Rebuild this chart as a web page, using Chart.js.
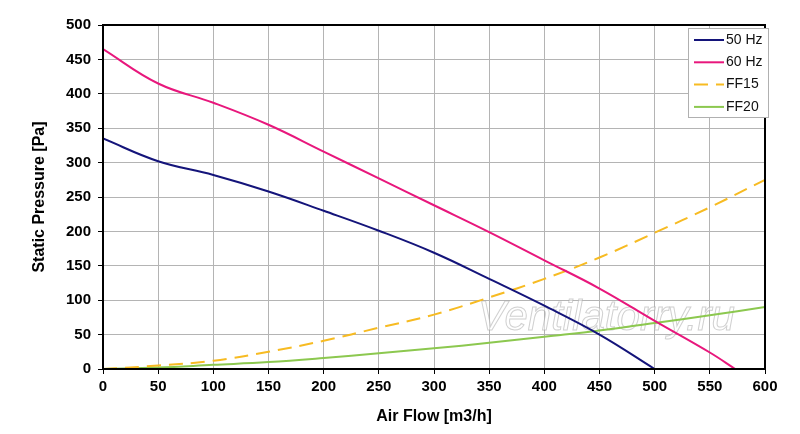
<!DOCTYPE html>
<html>
<head>
<meta charset="utf-8">
<script src="https://cdn.jsdelivr.net/npm/chart.js@4/dist/chart.umd.min.js"></script>
<style>
  html, body { margin: 0; padding: 0; background: #fff; }
  #wrap { width: 800px; height: 434px; }
</style>
</head>
<body>
<div id="wrap"><canvas id="fanChart" width="800" height="434"></canvas></div>
<script>
// air flow points [m3/h]
const flow = [0, 50, 100, 150, 200, 250, 300, 350, 400, 450, 500, 550, 600]
const flow60 = [0, 50, 100, 150, 200, 250, 300, 350, 400, 450, 500, 550, 573]

// static pressure [Pa]
const hz50 = [335, 302, 282, 258, 230, 201, 169, 131, 92, 50, 0]
const hz60 = [465, 415, 387, 355, 316, 277, 238, 199, 158, 117, 70, 24, 0]
const ff15 = [0, 5, 12, 25, 41, 60, 79, 104, 131, 162, 198, 235, 275]
const ff20 = [0, 2, 6, 10, 16, 23, 30, 38, 47, 56, 67, 78, 90]

const xTicks = [0, 50, 100, 150, 200, 250, 300, 350, 400, 450, 500, 550, 600]

const toPoints = (xs, ys) => ys.map((y, i) => ({ x: xs[i], y: y }))

const FONT = "'Liberation Sans', Arial, sans-serif"
const tickFont = { family: FONT, size: 15, weight: 'bold' }
const titleFont = { family: FONT, size: 16, weight: 'bold' }

// box legend drawn inside the plot, top right
const boxLegend = {
    id: 'boxLegend',
    afterDraw(chart) {
        const ctx = chart.ctx
        const area = chart.chartArea
        const x0 = area.right - 77, y0 = area.top + 3
        const w = 80, h = 89
        ctx.save()
        ctx.fillStyle = '#fff'
        ctx.fillRect(x0, y0, w, h)
        ctx.strokeStyle = '#b0b0b0'
        ctx.lineWidth = 1
        ctx.strokeRect(x0 + 0.5, y0 + 0.5, w, h)
        ctx.font = "14px " + FONT
        ctx.textBaseline = 'middle'
        chart.data.datasets.forEach((ds, i) => {
            const cy = y0 + 12 + i * 22.3
            ctx.strokeStyle = ds.borderColor
            ctx.lineWidth = 2
            ctx.setLineDash(ds.borderDash || [])
            ctx.beginPath()
            ctx.moveTo(x0 + 6, cy)
            ctx.lineTo(x0 + 36, cy)
            ctx.stroke()
            ctx.setLineDash([])
            ctx.fillStyle = '#111'
            ctx.fillText(ds.label, x0 + 38, cy)
        })
        ctx.restore()
    }
}

// black frame round the plot and the faint watermark
const frame = {
    id: 'frame',
    beforeDatasetsDraw(chart) {
        const ctx = chart.ctx
        ctx.save()
        ctx.font = "italic 42px " + FONT
        ctx.strokeStyle = 'rgba(170,170,170,0.55)'
        ctx.fillStyle = 'rgba(255,255,255,0.5)'
        ctx.lineWidth = 1
        ctx.textBaseline = 'middle'
        ctx.fillText('Ventilatorry.ru', 478, 318)
        ctx.strokeText('Ventilatorry.ru', 478, 318)
        ctx.restore()
    },
    afterDatasetsDraw(chart) {
        const ctx = chart.ctx
        const a = chart.chartArea
        ctx.save()
        ctx.strokeStyle = '#000'
        ctx.lineWidth = 2
        ctx.strokeRect(a.left, a.top, a.right - a.left, a.bottom - a.top)
        ctx.restore()
    }
}

new Chart(document.getElementById('fanChart').getContext('2d'), {
    type: 'line',
    data: {
        datasets: [
            { label: '50 Hz', data: toPoints(flow, hz50), borderColor: '#14147a', borderWidth: 2, tension: 0.4 },
            { label: '60 Hz', data: toPoints(flow60, hz60), borderColor: '#e8177c', borderWidth: 2, tension: 0.4 },
            { label: 'FF15', data: toPoints(flow, ff15), borderColor: '#f7bb22', borderWidth: 2, borderDash: [14, 8], tension: 0.4 },
            { label: 'FF20', data: toPoints(flow, ff20), borderColor: '#8cc84f', borderWidth: 2, tension: 0.4 }
        ]
    },
    options: {
        responsive: false,
        animation: false,
        elements: { point: { radius: 0 } },
        layout: { padding: { top: 25, right: 35, left: 0, bottom: 0 } },
        plugins: { legend: { display: false }, tooltip: { enabled: false } },
        scales: {
            x: {
                type: 'linear',
                min: 0, max: 600,
                afterBuildTicks: axis => { axis.ticks = xTicks.map(v => ({ value: v })) },
                afterFit: axis => { axis.height = 65 },
                grid: { color: '#b4b4b4', lineWidth: 1, tickLength: 5, tickColor: '#000' },
                border: { color: '#000', width: 2 },
                ticks: { color: '#000', font: tickFont, padding: 4, maxRotation: 0 },
                title: { display: true, text: 'Air Flow [m3/h]', color: '#000', font: titleFont, padding: { top: 0, bottom: 8 } }
            },
            y: {
                min: 0, max: 500,
                afterFit: axis => { axis.width = 103 },
                grid: { color: '#b4b4b4', lineWidth: 1, tickLength: 5, tickColor: '#000' },
                border: { color: '#000', width: 2 },
                ticks: { stepSize: 50, color: '#000', font: tickFont, padding: 7 },
                title: { display: true, text: 'Static Pressure [Pa]', color: '#000', font: titleFont, padding: { top: 30, bottom: 0 } }
            }
        }
    },
    plugins: [frame, boxLegend]
})
</script>
</body>
</html>
